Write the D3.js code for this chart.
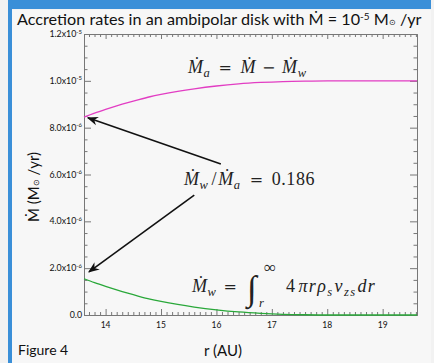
<!DOCTYPE html>
<html>
<head>
<meta charset="utf-8">
<script src="https://cdn.jsdelivr.net/npm/d3@7"></script>
<style>
  body { margin: 0; background: #f2f2f2; }
  svg { display: block; }
  .sans { font-family: Lato, "Open Sans", sans-serif; fill: #111; }
  .math { font-family: "Liberation Serif", "DejaVu Serif", serif; fill: #222; }
</style>
</head>
<body>
<div id="chart"></div>
<script>
// radius in AU
const rValues = [13.61, 13.8, 14.0, 14.2, 14.4, 14.6, 14.8, 15.0, 15.3, 15.6, 16.0, 16.4, 16.8, 17.2, 17.6, 18.0, 18.5, 19.0, 19.62]
// accretion rate through the disk (Msun/yr)
const mdotAccr = [8.45e-6, 8.62e-6, 8.78e-6, 8.93e-6, 9.07e-6, 9.20e-6, 9.32e-6, 9.42e-6, 9.55e-6, 9.66e-6, 9.78e-6, 9.87e-6, 9.93e-6, 9.97e-6, 9.99e-6, 1.0e-5, 1.0e-5, 1.0e-5, 1.0e-5]
// mass lost in the wind (Msun/yr)
const mdotWind = [1.55e-6, 1.38e-6, 1.22e-6, 1.07e-6, 0.93e-6, 0.80e-6, 0.68e-6, 0.58e-6, 0.45e-6, 0.34e-6, 0.22e-6, 0.13e-6, 0.07e-6, 0.03e-6, 0.01e-6, 0, 0, 0, 0]

const xTicks = [14, 15, 16, 17, 18, 19]
const yTicks = [0, 2e-6, 4e-6, 6e-6, 8e-6, 1.0e-5, 1.2e-5]
const yTickMant = ["0.0", "2.0x10", "4.0x10", "6.0x10", "8.0x10", "1.0x10", "1.2x10"]
const yTickExp = ["", "-6", "-6", "-6", "-6", "-5", "-5"]

// arrows: [tail r, tail value, tip r, tip value]
const arrows = [
    [16.08, 6.45e-6, 13.68, 8.42e-6],
    [15.60, 5.12e-6, 13.70, 1.84e-6]
]

const width = 434, height = 363
const margin = {left: 84, right: 17, top: 34, bottom: 48}

const svg = d3.select("#chart").append("svg")
    .attr("width", width)
    .attr("height", height)

// frame
svg.append("rect").attr("x", 0).attr("y", 0).attr("width", width).attr("height", height).attr("fill", "#f2f2f2")
svg.append("rect").attr("x", 12).attr("y", 10).attr("width", 419).attr("height", height - 10).attr("fill", "#f7f7f7")
svg.append("rect").attr("x", 8).attr("y", 0).attr("width", 423).attr("height", 9).attr("fill", "#3a8fd8")
svg.append("rect").attr("x", 8).attr("y", 0).attr("width", 4).attr("height", height).attr("fill", "#3a8fd8")

const x = d3.scaleLinear().domain([13.61, 19.62]).range([margin.left, width - margin.right])
const y = d3.scaleLinear().domain([0, 1.2e-5]).range([height - margin.bottom, margin.top])

const axisColor = "#777"

// axes, ticks pointing inward, mirrored on top/right
function styleAxis(g) {
    g.select(".domain").attr("stroke", axisColor)
    g.selectAll(".tick line").attr("stroke", axisColor)
    g.selectAll(".tick text").remove()
}
const xMinor = d3.range(13.7, 19.62, 0.1).filter(v => Math.abs(v - Math.round(v)) > 0.01)
const yMinor = d3.range(0, 1.21e-5, 5e-7).filter((v, i) => i % 4 != 0)

svg.append("g").attr("transform", `translate(0,${y(0)})`)
    .call(d3.axisTop(x).tickValues(xTicks).tickSize(6).tickSizeOuter(0)).call(styleAxis)
svg.append("g").attr("transform", `translate(0,${y(0)})`)
    .call(d3.axisTop(x).tickValues(xMinor).tickSize(3).tickSizeOuter(0)).call(styleAxis)
svg.append("g").attr("transform", `translate(0,${y(1.2e-5)})`)
    .call(d3.axisBottom(x).tickValues(xTicks).tickSize(5).tickSizeOuter(0)).call(styleAxis)
svg.append("g").attr("transform", `translate(0,${y(1.2e-5)})`)
    .call(d3.axisBottom(x).tickValues(xMinor).tickSize(3).tickSizeOuter(0)).call(styleAxis)
svg.append("g").attr("transform", `translate(${x.range()[0]},0)`)
    .call(d3.axisRight(y).tickValues(yTicks).tickSize(7).tickSizeOuter(0)).call(styleAxis)
svg.append("g").attr("transform", `translate(${x.range()[0]},0)`)
    .call(d3.axisRight(y).tickValues(yMinor).tickSize(3.5).tickSizeOuter(0)).call(styleAxis)
svg.append("g").attr("transform", `translate(${x.range()[1]},0)`)
    .call(d3.axisLeft(y).tickValues(yTicks).tickSize(7).tickSizeOuter(0)).call(styleAxis)
svg.append("g").attr("transform", `translate(${x.range()[1]},0)`)
    .call(d3.axisLeft(y).tickValues(yMinor).tickSize(3.5).tickSizeOuter(0)).call(styleAxis)

// tick labels
svg.selectAll(".xlab").data(xTicks).enter().append("text")
    .attr("class", "sans")
    .attr("x", d => x(d)).attr("y", y(0) + 13)
    .attr("text-anchor", "middle")
    .style("font-size", "8.5px")
    .text(d => d)

const ylab = svg.selectAll(".ylab").data(yTicks).enter().append("text")
    .attr("class", "sans")
    .attr("x", x.range()[0] - 2).attr("y", d => y(d) + 3)
    .attr("text-anchor", "end")
    .style("font-size", "8.8px")
ylab.append("tspan").text((d, i) => yTickMant[i])
ylab.append("tspan").attr("dy", -3.5).style("font-size", "6px").text((d, i) => yTickExp[i])

// curves
const line = d3.line().x(d => x(d[0])).y(d => y(d[1])).curve(d3.curveMonotoneX)
svg.append("path").datum(rValues.map((r, i) => [r, mdotAccr[i]]))
    .attr("d", line).attr("fill", "none").attr("stroke", "#e23dc3").attr("stroke-width", 1.3)
svg.append("path").datum(rValues.map((r, i) => [r, mdotWind[i]]))
    .attr("d", line).attr("fill", "none").attr("stroke", "#2aa83a").attr("stroke-width", 1.3)

// arrows
svg.append("defs").append("marker")
    .attr("id", "head").attr("viewBox", "0 0 10 10").attr("refX", 9).attr("refY", 5)
    .attr("markerWidth", 7).attr("markerHeight", 7).attr("orient", "auto")
    .append("path").attr("d", "M0,1 L10,5 L0,9 L3,5 Z").attr("fill", "#111")
svg.selectAll(".arrow").data(arrows).enter().append("line")
    .attr("x1", d => x(d[0])).attr("y1", d => y(d[1]))
    .attr("x2", d => x(d[2])).attr("y2", d => y(d[3]))
    .attr("stroke", "#111").attr("stroke-width", 1.6)
    .attr("marker-end", "url(#head)")

// equation labels, built from pieces: t text, it italic, sub subscript, op operator, dx gap
function mathText(xp, yp, parts, ls) {
    const t = svg.append("text").attr("class", "math").attr("x", xp).attr("y", yp)
        .style("font-size", "18px").style("letter-spacing", (ls || 0.6) + "px")
    let low = false
    parts.forEach(p => {
        const s = t.append("tspan").text(p.t)
        let dy = 0
        if (p.sub && !low) { dy = 4; low = true }
        if (!p.sub && low) { dy = -4; low = false }
        if (dy) s.attr("dy", dy)
        if (p.dx) s.attr("dx", p.dx)
        if (p.it) s.style("font-style", "italic")
        if (p.sub) s.style("font-size", "12.5px")
        if (p.op) s.style("font-family", "'DejaVu Serif', serif").style("font-size", "16px")
    })
    return t
}
mathText(188, 73, [
    {t: "Ṁ", it: true}, {t: "a", it: true, sub: true},
    {t: "=", op: true, dx: 8}, {t: "Ṁ", it: true, dx: 8},
    {t: "−", op: true, dx: 6}, {t: "Ṁ", it: true, dx: 6},
    {t: "w", it: true, sub: true}
])
mathText(184, 185, [
    {t: "Ṁ", it: true}, {t: "w", it: true, sub: true},
    {t: "/", dx: 3}, {t: "Ṁ", it: true, dx: 1}, {t: "a", it: true, sub: true},
    {t: "=", op: true, dx: 9}, {t: "0.186", dx: 8}
])
mathText(192, 292, [
    {t: "Ṁ", it: true}, {t: "w", it: true, sub: true}, {t: "=", op: true, dx: 7}
])
svg.append("text").attr("class", "math").attr("x", 247).attr("y", 300)
    .style("font-size", "35px").style("font-style", "italic").text("∫")
svg.append("text").attr("class", "math").attr("x", 264).attr("y", 273)
    .style("font-size", "17px").text("∞")
svg.append("text").attr("class", "math").attr("x", 259).attr("y", 307)
    .style("font-size", "12.5px").style("font-style", "italic").text("r")
mathText(286, 292, [
    {t: "4"}, {t: "πrρ", it: true, dx: 2}, {t: "s", it: true, sub: true},
    {t: "v", it: true, dx: 1}, {t: "zs", it: true, sub: true},
    {t: "dr", it: true, dx: 1}
], 1.4)

// titles
const title = svg.append("text").attr("class", "sans").attr("x", 17).attr("y", 25)
    .style("font-size", "16.2px")
title.append("tspan").text("Accretion rates in an ambipolar disk with Ṁ = 10")
title.append("tspan").attr("dy", -5).style("font-size", "10px").text("-5")
title.append("tspan").attr("dy", 5).text(" M")
title.append("tspan").style("font-size", "8px").text("⊙")
title.append("tspan").text(" /yr")

svg.append("text").attr("class", "sans").attr("x", 223).attr("y", 356)
    .attr("text-anchor", "middle").style("font-size", "15px").text("r (AU)")
svg.append("text").attr("class", "sans").attr("x", 18).attr("y", 355)
    .style("font-size", "14px").text("Figure 4")

const ytitle = svg.append("text").attr("class", "sans")
    .attr("transform", "translate(39,187) rotate(-90)")
    .attr("text-anchor", "middle").style("font-size", "15px")
ytitle.append("tspan").text("Ṁ (M")
ytitle.append("tspan").style("font-size", "8px").text("⊙")
ytitle.append("tspan").text(" /yr)")
</script>
</body>
</html>
